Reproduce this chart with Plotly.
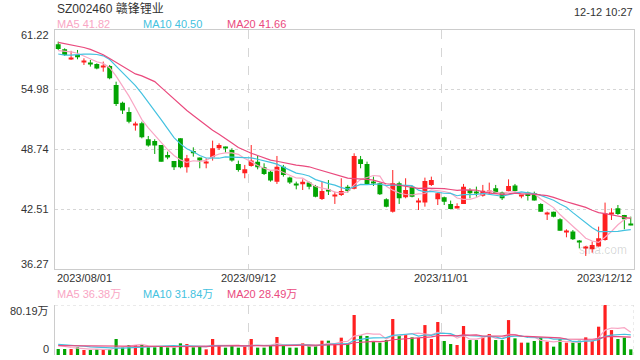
import numpy as np
import pandas as pd
import plotly.graph_objects as go

# ---------------- data ----------------
stock_title = "SZ002460 赣锋锂业"
time_text = "12-12 10:27"
date_labels = ["2023/08/01", "2023/09/12", "2023/11/01", "2023/12/12"]
date_pos = [-0.5, 29.5, 59.5, 89.5]

open_ = [59.68, 59.16, 58.20, 58.57, 57.85, 57.72, 57.63, 57.35, 57.42, 55.45,
         53.61, 52.64, 51.30, 51.46, 49.80, 49.62, 49.20, 48.17, 47.54, 49.90,
         46.88, 48.58, 47.89, 47.30, 47.92, 48.86, 49.00, 48.69, 47.23, 46.26,
         47.02, 47.47, 46.88, 46.43, 45.39, 46.95, 45.81, 45.08, 45.12, 45.29,
         44.94, 43.59, 44.50, 43.88, 44.00, 44.87, 44.66, 47.72, 47.23, 45.32,
         45.22, 43.55, 42.27, 45.22, 43.76, 44.87, 43.26, 43.21, 45.05, 43.55,
         43.76, 43.07, 42.69, 43.07, 44.52, 44.28, 43.93, 44.33, 44.70, 44.28,
         44.42, 44.98, 43.88, 44.25, 44.18, 43.07, 42.05, 42.27, 41.47, 40.15,
         40.19, 39.18, 38.45, 38.35, 38.63, 39.32, 42.05, 42.62, 41.93, 40.92]
high = [59.96, 59.26, 59.00, 59.09, 58.22, 58.05, 57.70, 57.88, 57.53, 55.79,
        53.71, 53.12, 51.63, 51.63, 50.14, 49.80, 49.20, 48.51, 47.54, 49.90,
        48.17, 48.96, 47.89, 47.82, 49.66, 49.38, 49.03, 48.86, 47.58, 47.13,
        49.20, 48.06, 47.30, 46.60, 48.06, 47.13, 45.91, 45.39, 45.63, 45.39,
        45.05, 45.39, 45.56, 44.35, 45.74, 45.05, 48.34, 48.06, 47.47, 45.91,
        45.29, 43.66, 46.60, 45.39, 45.74, 44.94, 43.66, 45.81, 45.91, 44.25,
        43.83, 43.42, 43.14, 45.15, 44.70, 44.87, 45.05, 45.29, 45.05, 44.35,
        45.63, 45.15, 43.95, 44.35, 44.35, 43.14, 42.27, 42.27, 41.58, 40.43,
        40.36, 39.32, 38.70, 39.15, 40.71, 43.21, 42.62, 42.96, 41.93, 41.75]
low = [59.09, 58.47, 58.05, 58.12, 57.53, 57.36, 57.08, 56.83, 56.04, 53.26,
       52.43, 51.46, 50.70, 49.90, 49.03, 48.27, 47.47, 47.72, 46.60, 46.78,
       46.33, 47.99, 46.78, 46.78, 47.58, 48.69, 48.41, 47.47, 46.43, 45.74,
       46.95, 46.67, 46.08, 45.39, 45.15, 45.91, 45.15, 44.59, 44.52, 44.59,
       43.76, 43.48, 44.00, 43.07, 43.90, 44.25, 44.59, 46.78, 45.05, 44.94,
       44.00, 42.72, 42.17, 43.07, 43.66, 43.76, 42.44, 42.79, 44.94, 42.96,
       42.96, 42.51, 42.62, 43.07, 43.66, 43.83, 43.83, 44.00, 44.10, 43.48,
       44.35, 44.35, 43.66, 43.42, 43.42, 42.27, 41.40, 41.68, 40.29, 39.60,
       39.32, 38.45, 37.66, 38.00, 38.63, 39.25, 41.40, 41.93, 40.43, 40.85]
close = [59.19, 58.57, 58.25, 58.33, 57.90, 57.67, 57.15, 57.40, 56.14, 53.47,
         52.78, 51.63, 51.35, 50.00, 49.14, 49.14, 47.47, 47.89, 46.88, 46.88,
         47.82, 48.34, 47.58, 47.35, 48.86, 49.20, 48.93, 47.58, 46.60, 46.67,
         47.58, 46.88, 46.19, 45.50, 46.95, 46.08, 45.29, 45.03, 45.39, 44.87,
         43.83, 44.42, 44.45, 43.93, 44.42, 44.42, 48.06, 47.23, 45.15, 45.29,
         44.07, 42.79, 45.22, 43.66, 44.52, 43.83, 43.31, 45.46, 45.56, 44.18,
         43.31, 42.55, 42.86, 44.87, 44.18, 44.25, 44.45, 44.38, 44.18, 43.66,
         44.94, 44.42, 43.93, 43.90, 43.42, 42.27, 42.10, 41.75, 40.29, 40.22,
         39.39, 39.14, 38.50, 38.80, 39.50, 42.10, 42.10, 42.03, 41.47, 40.88]
# volume in 万 shares
volume = [9.6, 9.6, 9.6, 12.3, 8.0, 8.0, 9.1, 8.0, 9.1, 25.7,
          12.3, 16.0, 16.0, 16.0, 12.3, 12.3, 14.4, 12.3, 12.3, 18.7,
          17.6, 12.3, 14.4, 9.1, 25.7, 16.0, 11.8, 14.4, 11.8, 14.4,
          25.7, 11.8, 11.8, 14.4, 28.9, 14.4, 11.8, 11.8, 18.7, 14.4,
          14.4, 23.0, 23.0, 17.6, 27.8, 18.7, 64.2, 31.5, 30.5, 22.5,
          19.8, 24.0, 57.7, 30.5, 32.0, 28.3, 27.3, 48.0, 25.7, 52.9,
          22.5, 17.6, 16.0, 46.5, 24.0, 24.0, 28.3, 33.7, 24.0, 24.0,
          56.0, 26.7, 19.8, 19.8, 22.5, 28.3, 21.4, 13.4, 25.7, 19.8,
          19.8, 23.0, 28.3, 22.5, 45.4, 80.19, 40.0, 25.7, 27.8, 9.1]

# moving-average values at the start of the window (before a full window exists)
ma5_head = [59.02, 58.98, 58.90, 58.75]
ma10_head = [58.67, 58.55, 58.55, 58.62, 58.65, 58.65, 58.62, 58.48, 58.10]
ma20_head = [59.88, 59.75, 59.60, 59.50, 59.35, 59.15, 58.90, 58.60, 58.20, 57.80,
             57.40, 57.00, 56.60, 56.40, 56.10, 55.80, 55.20, 54.60, 54.00]
vma5_head = [15.5, 13.5, 12.0, 11.0]
vma10_head = [17.0, 16.5, 15.8, 15.0, 14.0, 13.0, 12.2, 11.5, 11.0]
vma20_head = [15.0, 14.9, 14.8, 14.7, 14.6, 14.4, 14.2, 14.0, 13.8, 13.7,
              13.6, 13.5, 13.4, 13.3, 13.2, 13.1, 13.0, 12.9, 12.8]

price_ticks = [61.22, 54.98, 48.74, 42.51, 36.27]
vol_max = 80.19
ma_price_text = ["MA5 41.82", "MA10 40.50", "MA20 41.66"]
ma_vol_text = ["MA5 36.38万", "MA10 31.84万", "MA20 28.49万"]

# ---------------- styling ----------------
UP = "#ff2020"
DOWN = "#03a403"
C_MA5 = "#f9a6c4"
C_MA10 = "#44c2e0"
C_MA20 = "#ea4a7e"
TXT = "#333333"
FONT = "Liberation Sans, Arial, Noto Sans CJK SC, sans-serif"
W, H = 640, 360
L_PX, R_PX = 55, 634


def px_x(x):
    return (x - L_PX) / (R_PX - L_PX)


def px_y(y):
    return 1 - y / H


def ma(values, n, head):
    s = pd.Series(values, dtype=float).rolling(n).mean().to_numpy()
    s[:n - 1] = head
    return s


idx = np.arange(len(close))
o = np.array(open_)
c = np.array(close)
hi = np.array(high)
lo = np.array(low)
up = c >= o

fig = go.Figure()

# wicks
for mask, col in ((up, UP), (~up, DOWN)):
    xs, ys = [], []
    for i in idx[mask]:
        xs += [i, i, None]
        ys += [lo[i], hi[i], None]
    fig.add_trace(go.Scatter(x=xs, y=ys, mode="lines", line=dict(color=col, width=1),
                             hoverinfo="skip", xaxis="x", yaxis="y"))

# bodies
for mask, col in ((up, UP), (~up, DOWN)):
    base = np.minimum(o, c)[mask]
    hgt = np.maximum(np.abs(c - o)[mask], 0.1)
    fig.add_trace(go.Bar(x=idx[mask], y=hgt, base=base, width=0.76,
                         marker=dict(color=col, line=dict(width=0)),
                         xaxis="x", yaxis="y"))

# price MAs
for vals, n, head, col in ((close, 5, ma5_head, C_MA5), (close, 10, ma10_head, C_MA10),
                           (close, 20, ma20_head, C_MA20)):
    fig.add_trace(go.Scatter(x=idx, y=ma(vals, n, head), mode="lines",
                             line=dict(color=col, width=1.2), xaxis="x", yaxis="y"))

# volume bars
vol = np.array(volume)
for mask, col in ((up, UP), (~up, DOWN)):
    fig.add_trace(go.Bar(x=idx[mask], y=vol[mask], width=0.5,
                         marker=dict(color=col, line=dict(width=0)),
                         xaxis="x2", yaxis="y2"))

for vals, n, head, col in ((volume, 5, vma5_head, C_MA5), (volume, 10, vma10_head, C_MA10),
                           (volume, 20, vma20_head, C_MA20)):
    fig.add_trace(go.Scatter(x=idx, y=ma(vals, n, head), mode="lines",
                             line=dict(color=col, width=1.2), xaxis="x2", yaxis="y2"))

main_dom = [px_y(269.3), px_y(29.5)]
vol_dom = [px_y(355), px_y(305)]
xr = [-0.5, len(close) - 0.5]
GRID = "#d6d6d6"
FRAME = "#cccccc"

common_x = dict(range=xr, tickvals=[29.5, 59.5], showgrid=True, gridcolor=GRID,
                griddash="dash", gridwidth=1, showticklabels=False, ticks="",
                zeroline=False, fixedrange=True)

fig.update_layout(
    width=W, height=H, margin=dict(l=L_PX, r=W - R_PX, t=0, b=0, autoexpand=False),
    paper_bgcolor="white", plot_bgcolor="white", showlegend=False, barmode="overlay",
    font=dict(family=FONT, size=11, color=TXT),
    xaxis=dict(domain=[0, 1], anchor="y", showline=True, mirror=True, linecolor=FRAME,
               **common_x),
    yaxis=dict(domain=main_dom, range=[price_ticks[-1], price_ticks[0]],
               tickvals=price_ticks[1:-1], showgrid=True, gridcolor=GRID, griddash="dot",
               showticklabels=False, ticks="", zeroline=False, showline=True, mirror=True,
               linecolor=FRAME, fixedrange=True),
    xaxis2=dict(domain=[0, 1], anchor="y2", showline=False, **common_x),
    yaxis2=dict(domain=vol_dom, range=[0, vol_max], showgrid=False, showticklabels=False,
                ticks="", zeroline=False, showline=True, linecolor=FRAME, fixedrange=True),
)

# volume panel top and right dotted borders
fig.add_shape(type="line", xref="x2", yref="y2", x0=xr[0], x1=xr[1], y0=vol_max, y1=vol_max,
              line=dict(color=GRID, width=1, dash="dot"))
fig.add_shape(type="line", xref="x2", yref="y2", x0=xr[1], x1=xr[1], y0=0, y1=vol_max,
              line=dict(color=GRID, width=1, dash="dot"))

ann = []
# header
ann.append(dict(text=stock_title, xref="paper", yref="paper", x=px_x(55), y=px_y(8),
                xanchor="left", yanchor="middle", showarrow=False,
                font=dict(size=12, color=TXT)))
ann.append(dict(text=time_text, xref="paper", yref="paper", x=px_x(635), y=px_y(11.5),
                xanchor="right", yanchor="middle", showarrow=False,
                font=dict(size=11, color=TXT)))
for txt, xp, col in zip(ma_price_text, [55, 140.5, 225.3], [C_MA5, C_MA10, C_MA20]):
    ann.append(dict(text=txt, xref="paper", yref="paper", x=px_x(xp), y=px_y(24),
                    xanchor="left", yanchor="middle", showarrow=False,
                    font=dict(size=11, color=col)))
for txt, xp, col in zip(ma_vol_text, [55, 140.5, 225.3], [C_MA5, C_MA10, C_MA20]):
    ann.append(dict(text=txt, xref="paper", yref="paper", x=px_x(xp), y=px_y(294),
                    xanchor="left", yanchor="middle", showarrow=False,
                    font=dict(size=11, color=col)))
# price axis labels
for k, v in enumerate(price_ticks):
    shift = -5.5 if k == 0 else (5.5 if k == len(price_ticks) - 1 else 0)
    ann.append(dict(text=f"{v:.2f}", xref="paper", yref="y", x=px_x(51), y=v, yshift=shift,
                    xanchor="right", yanchor="middle", showarrow=False,
                    font=dict(size=11, color=TXT)))
# volume axis labels
ann.append(dict(text=f"{vol_max:.2f}万", xref="paper", yref="y2", x=px_x(51), y=vol_max,
                yshift=-6, xanchor="right", yanchor="middle", showarrow=False,
                font=dict(size=11, color=TXT)))
ann.append(dict(text="0", xref="paper", yref="y2", x=px_x(51), y=0, yshift=6.5,
                xanchor="right", yanchor="middle", showarrow=False,
                font=dict(size=11, color=TXT)))
# date labels
anchors = ["left", "center", "center", "right"]
for txt, xp, an in zip(date_labels, date_pos, anchors):
    ann.append(dict(text=txt, xref="x", yref="paper", x=xp, y=px_y(278),
                    xanchor=an, yanchor="middle", showarrow=False,
                    font=dict(size=11, color=TXT)))
# watermark
ann.append(dict(text="sina.com", xref="paper", yref="paper", x=px_x(603), y=px_y(249.5),
                xanchor="center", yanchor="middle", showarrow=False,
                font=dict(size=12, color="rgba(0,0,0,0.16)")))
fig.update_layout(annotations=ann)

fig.write_html("out.html", config={"displayModeBar": False},
               post_script="document.body.style.margin='0px';")
